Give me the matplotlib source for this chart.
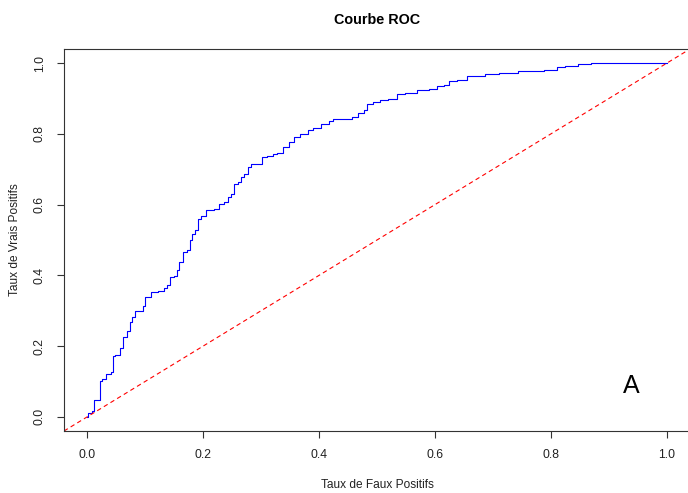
import matplotlib
matplotlib.use("Agg")
import matplotlib.pyplot as plt

plt.rcParams['font.family'] = ['Liberation Sans', 'DejaVu Sans']

# ROC curve points (false positive rate, true positive rate)
fpr = [0.0, 0.0035, 0.012, 0.012, 0.0195, 0.0237, 0.026, 0.038, 0.043, 0.045,
       0.052, 0.060, 0.064, 0.0725, 0.0755, 0.078, 0.088, 0.097, 0.097, 0.104,
       0.116, 0.130, 0.135, 0.142, 0.145, 0.153, 0.156, 0.162, 0.168, 0.176,
       0.179, 0.184, 0.188, 0.193, 0.199, 0.211, 0.225, 0.231, 0.240, 0.245,
       0.251, 0.257, 0.263, 0.268, 0.274, 0.280, 0.286, 0.297, 0.305, 0.317,
       0.323, 0.332, 0.343, 0.354, 0.360, 0.375, 0.386, 0.394, 0.412, 0.421,
       0.427, 0.453, 0.461, 0.473, 0.481, 0.484, 0.501, 0.509, 0.530, 0.538,
       0.559, 0.579, 0.599, 0.608, 0.624, 0.624, 0.651, 0.661, 0.710, 0.712,
       0.775, 0.801, 0.821, 0.827, 0.867, 0.870, 1.0]
tpr = [0.0, 0.011, 0.017, 0.048, 0.048, 0.102, 0.108, 0.122, 0.128, 0.173,
       0.176, 0.196, 0.225, 0.244, 0.267, 0.283, 0.300, 0.300, 0.314, 0.338,
       0.352, 0.355, 0.363, 0.372, 0.395, 0.399, 0.414, 0.437, 0.465, 0.472,
       0.499, 0.518, 0.527, 0.560, 0.569, 0.584, 0.588, 0.603, 0.607, 0.621,
       0.631, 0.659, 0.664, 0.678, 0.688, 0.706, 0.714, 0.716, 0.735, 0.737,
       0.744, 0.746, 0.763, 0.777, 0.791, 0.799, 0.810, 0.818, 0.827, 0.837,
       0.841, 0.843, 0.848, 0.858, 0.867, 0.884, 0.889, 0.897, 0.900, 0.914,
       0.917, 0.924, 0.928, 0.935, 0.938, 0.950, 0.952, 0.963, 0.968, 0.973,
       0.978, 0.982, 0.989, 0.993, 0.997, 1.0, 1.0]

ticks = [0.0, 0.2, 0.4, 0.6, 0.8, 1.0]
tick_labels = ["0.0", "0.2", "0.4", "0.6", "0.8", "1.0"]

title = "Courbe ROC"
xlabel = "Taux de Faux Positifs"
ylabel = "Taux de Vrais Positifs"
annotation = "A"

fig = plt.figure(figsize=(6.88, 4.93), dpi=100)
ax = fig.add_axes([64/688, 62/493, (690-64)/688, (431-49)/493])

ax.plot(fpr, tpr, color='#0000FF', lw=0.8, drawstyle='steps-mid')
ax.axline((0, 0), slope=1, color='#FF0000', lw=0.8, ls=(0, (4, 3)))

ax.set_xlim(-0.04, 1.04)
ax.set_ylim(-0.04, 1.04)
ax.set_xticks(ticks)
ax.set_xticklabels(tick_labels)
ax.set_yticks(ticks)
ax.set_yticklabels(tick_labels, rotation=90, va='center')
ax.tick_params(axis='both', length=5, width=0.8, labelsize=8.8,
               colors='#333333', labelcolor='#222222')
ax.tick_params(axis='x', pad=8)
ax.tick_params(axis='y', pad=8)
for s in ax.spines.values():
    s.set_linewidth(0.8)
    s.set_color('#333333')

ax.text(0.938, 0.088, annotation, fontsize=18, ha='center', va='center', color='black')

fig.text(377/688, 1 - 20/493, title, fontsize=10.4, fontweight='bold',
         ha='center', va='center')
fig.text(377/688, 1 - 485/493, xlabel, fontsize=8.6, ha='center', va='center',
         color='#222222')
fig.text(15/688, 1 - 240/493, ylabel, fontsize=8.6, ha='center', va='center',
         rotation=90, color='#222222')

fig.savefig("out.png", dpi=100)
